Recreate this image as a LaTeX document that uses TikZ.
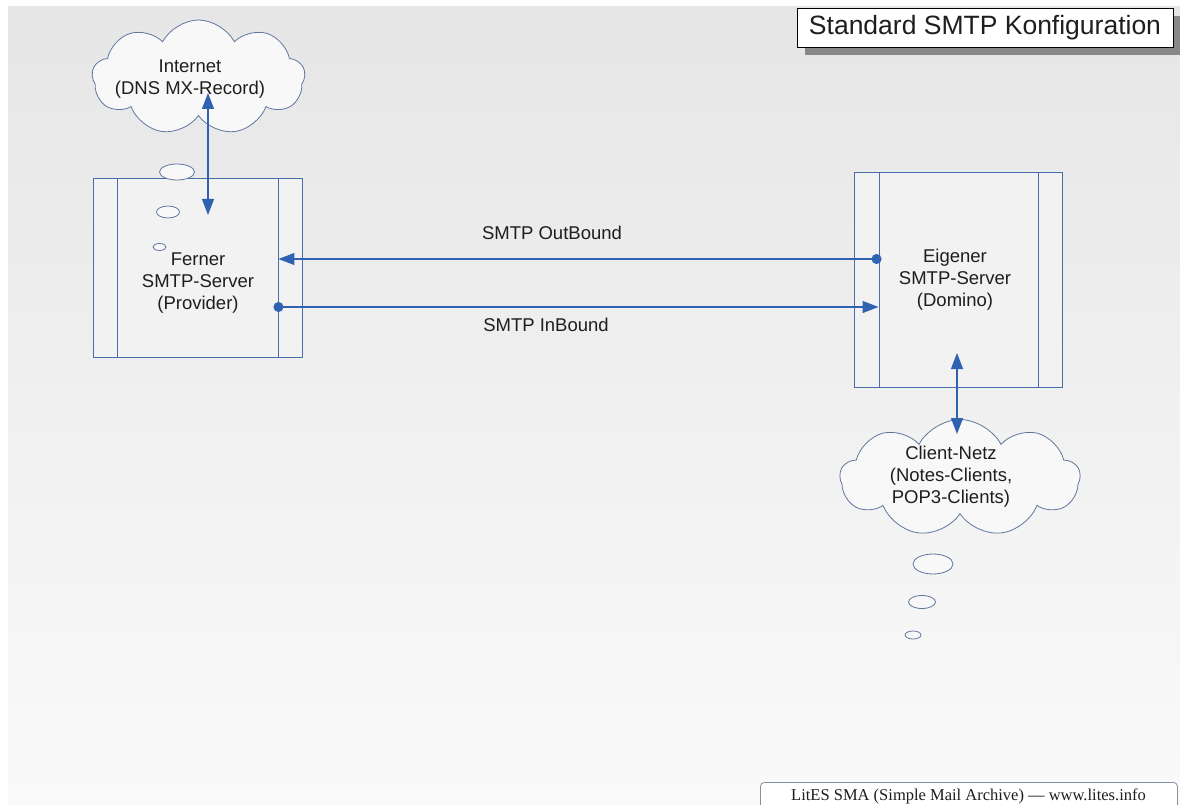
\documentclass[tikz,border=0pt]{standalone}
\usepackage{fontspec}
\setmainfont{Liberation Sans}
\newfontfamily\footfont{Liberation Serif}
\usetikzlibrary{shapes.symbols, arrows.meta, shadows}
\definecolor{boxline}{RGB}{72,108,172}
\definecolor{boxfill}{RGB}{242,242,242}
\definecolor{arrowc}{RGB}{48,98,178}
\definecolor{cloudline}{RGB}{96,118,158}
\definecolor{cloudfill}{RGB}{248,248,248}
\definecolor{txt}{RGB}{30,30,30}
\definecolor{bgtop}{RGB}{230,230,230}
\definecolor{bgbot}{RGB}{250,250,250}
\definecolor{shadowc}{RGB}{136,136,136}
\definecolor{footline}{RGB}{130,145,165}
\tikzset{mytri/.tip={Triangle[length=16pt, width=12pt]}, mydot/.tip={Circle[length=10pt]}}
\begin{document}
\begin{tikzpicture}[x=1pt, y=-1pt,
  outerbox/.style={draw=boxline, line width=0.9pt, fill=boxfill, inner sep=0pt},
  innerbox/.style={draw=boxline, line width=0.9pt, inner sep=0pt},
  servertext/.style={text=txt, align=center, font=\fontsize{18.5}{22}\selectfont},
  lbl/.style={text=txt, font=\fontsize{18.5}{22}\selectfont},
  cloudbox/.style={cloud, cloud puffs=9, cloud puff arc=125, draw=cloudline, line width=0.8pt, fill=cloudfill, inner sep=0pt},
  bubble/.style={draw=cloudline, line width=0.8pt, fill=cloudfill},
  conn/.style={draw=arrowc, line width=1.1pt}
]
\clip (0,0) rectangle (1180,805);
\fill[white] (0,0) rectangle (1180,805);
\shade[top color=bgtop, bottom color=bgbot] (8,7) rectangle (1180,805);

% title
\node[draw=black, line width=0.8pt, fill=white, minimum width=376pt, minimum height=39pt, inner sep=0pt,
      drop shadow={shadow xshift=8pt, shadow yshift=-8pt, fill=shadowc, opacity=1},
      font=\fontsize{26.5}{30}\selectfont, text=txt] (title) at (985,27.5) {Standard SMTP Konfiguration};

% servers
\node[outerbox, minimum width=209pt, minimum height=179pt] (ferner) at (197.5,267.5) {};
\node[innerbox, minimum width=161pt, minimum height=179pt] (fernerI) at (197.5,267.5) {};
\node[servertext] (fernerT) at (198,283) {Ferner\\SMTP-Server\\(Provider)};

\node[outerbox, minimum width=208pt, minimum height=215pt] (eigener) at (958,279.5) {};
\node[innerbox, minimum width=159pt, minimum height=215pt] (eigenerI) at (958.5,279.5) {};
\node[servertext] (eigenerT) at (955,280) {Eigener\\SMTP-Server\\(Domino)};

% clouds
\node[cloudbox, minimum width=213pt, minimum height=115pt] (internet) at (198.5,77.5) {};
\node[servertext] (internetT) at (190,79) {Internet\\(DNS MX-Record)};
\draw[bubble] (177,172) ellipse [x radius=17.5, y radius=8];
\draw[bubble] (168,212) ellipse [x radius=11.5, y radius=6];
\draw[bubble] (159.5,247) ellipse [x radius=6.5, y radius=3.5];

\node[cloudbox, minimum width=240pt, minimum height=117pt] (client) at (960,478) {};
\node[servertext] (clientT) at (951,477) {Client-Netz\\(Notes-Clients,\\POP3-Clients)};
\draw[bubble] (933,564) ellipse [x radius=20, y radius=10];
\draw[bubble] (922,602) ellipse [x radius=13.5, y radius=6.5];
\draw[bubble] (913,635) ellipse [x radius=8, y radius=4];

% connectors
\draw[conn, {mydot}-{mytri}, shorten <=-3pt] ([yshift=20.5pt]eigenerI.west) -- ([yshift=8.5pt]fernerI.east);
\draw[conn, {mydot}-{mytri}, shorten <=-5pt] ([yshift=-39.5pt]fernerI.east) -- ([yshift=-27.5pt]eigenerI.west);
\node[lbl] (outlbl) at (552,233) {SMTP OutBound};
\node[lbl] (inlbl) at (546,325) {SMTP InBound};

\coordinate (inetTip) at (208,93);
\coordinate (fernTip) at (208,215);
\draw[conn, {mytri}-{mytri}] (inetTip) -- (fernTip);

\coordinate (eigTip) at (957,353);
\coordinate (clientTip) at (957,434);
\draw[conn, {mytri}-{mytri}] (eigTip) -- (clientTip);

% footer
\node[draw=footline, line width=0.8pt, fill=white, rounded corners=4pt, minimum width=417pt, minimum height=34pt,
      inner sep=0pt, anchor=north west] (footer) at (760,782) {};
\node[font=\footfont\fontsize{16.5}{19}\selectfont, text=txt] (footT) at (968.5,796) {LitES SMA (Simple Mail Archive) — www.lites.info};
\end{tikzpicture}
\end{document}
